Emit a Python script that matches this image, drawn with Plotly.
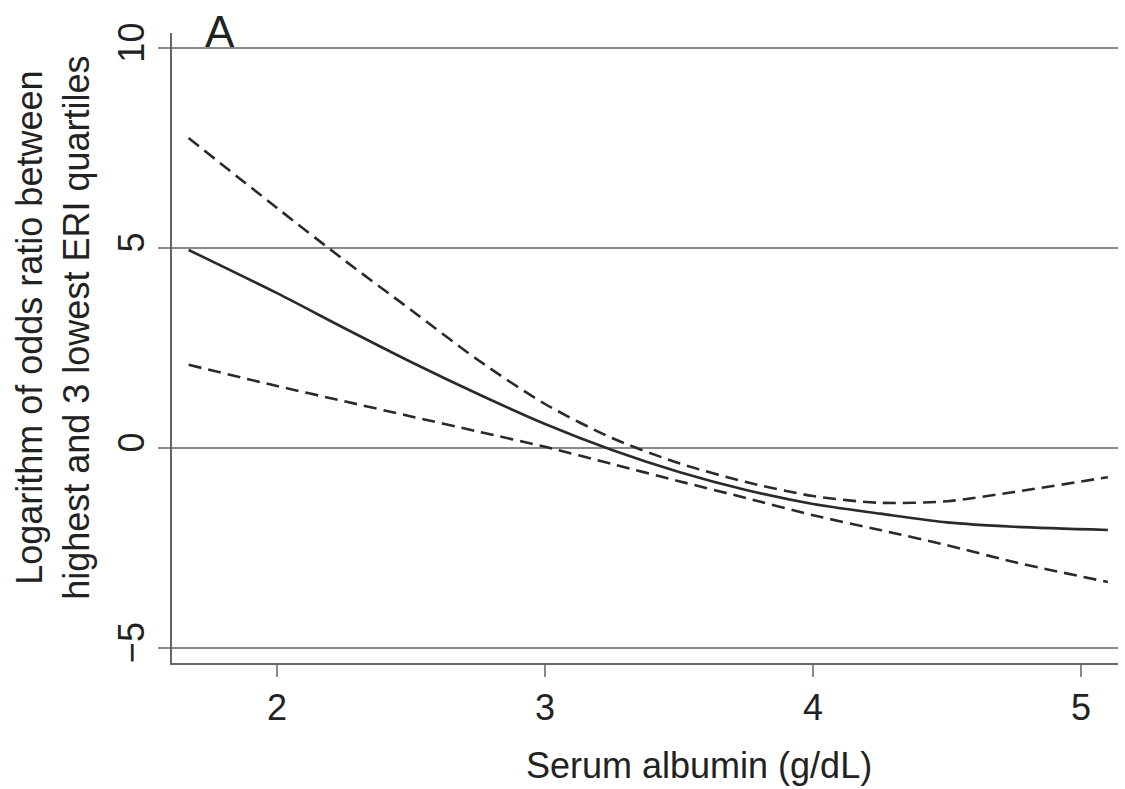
import plotly.graph_objects as go

# Serum albumin (g/dL)
albumin = [1.67, 2.0, 2.25, 2.5, 2.75, 3.0, 3.25, 3.5, 3.75, 4.0, 4.25, 4.5, 4.75, 5.1]
# Log odds ratio estimate (solid)
log_or = [4.95, 3.87, 3.0, 2.15, 1.35, 0.6, -0.05, -0.6, -1.05, -1.4, -1.64, -1.86, -1.97, -2.05]
# Upper confidence bound (dashed)
upper = [7.75, 6.0, 4.7, 3.45, 2.2, 1.1, 0.25, -0.38, -0.85, -1.2, -1.37, -1.33, -1.1, -0.73]
# Lower confidence bound (dashed)
lower = [2.08, 1.55, 1.17, 0.79, 0.41, 0.03, -0.4, -0.83, -1.25, -1.68, -2.05, -2.43, -2.85, -3.35]

x_ticks = [2, 3, 4, 5]
y_ticks = [-5, 0, 5, 10]

FONT = "Liberation Sans, Arial, Helvetica, sans-serif"
LINE_COL = "#2a2a2a"

fig = go.Figure()
fig.add_trace(go.Scatter(x=albumin, y=upper, mode="lines",
                         line=dict(color=LINE_COL, width=2.6, dash="13px,7px", shape="spline", smoothing=0.8),
                         showlegend=False, hoverinfo="skip"))
fig.add_trace(go.Scatter(x=albumin, y=lower, mode="lines",
                         line=dict(color=LINE_COL, width=2.6, dash="13px,7px", shape="spline", smoothing=0.8),
                         showlegend=False, hoverinfo="skip"))
fig.add_trace(go.Scatter(x=albumin, y=log_or, mode="lines",
                         line=dict(color=LINE_COL, width=2.6, shape="spline", smoothing=0.8),
                         showlegend=False, hoverinfo="skip"))

fig.update_layout(
    width=1125, height=789,
    margin=dict(l=172, r=7, t=33, b=126),
    paper_bgcolor="white", plot_bgcolor="white",
    font=dict(family=FONT, size=36, color="#222222"),
    xaxis=dict(range=[1.608, 5.138], tickvals=x_ticks, ticktext=[str(v) for v in x_ticks],
               showgrid=False, zeroline=False, showline=True, linecolor="#666666", linewidth=2,
               ticks="outside", ticklen=12, tickwidth=1.5, tickcolor="#8a8a8a",
               tickfont=dict(size=36, family=FONT, color="#222222")),
    yaxis=dict(range=[-5.375, 10.375], tickvals=y_ticks, ticktext=["\u22125", "0", "5", "10"],
               showgrid=True, gridcolor="#8a8a8a", gridwidth=2, zeroline=False,
               showline=True, linecolor="#666666", linewidth=2,
               ticks="outside", ticklen=12, tickwidth=1.5, tickcolor="#8a8a8a",
               tickangle=-90, tickfont=dict(size=36, family=FONT, color="#222222")),
    annotations=[
        dict(text="A", xref="paper", yref="paper", x=0.0507, y=1.003, xanchor="center", yanchor="middle",
             showarrow=False, font=dict(size=44, family=FONT, color="#222222")),
        dict(text="Serum albumin (g/dL)", xref="paper", yref="paper", x=0.557, y=-0.162,
             xanchor="center", yanchor="middle", showarrow=False,
             font=dict(size=36, family=FONT, color="#222222")),
        dict(text="Logarithm of odds ratio between<br>highest and 3 lowest ERI quartiles",
             xref="paper", yref="paper", x=-0.1258, y=0.532, xanchor="center", yanchor="middle",
             textangle=-90, showarrow=False,
             font=dict(size=36, family=FONT, color="#222222")),
    ],
)

fig.write_html("out.html")
